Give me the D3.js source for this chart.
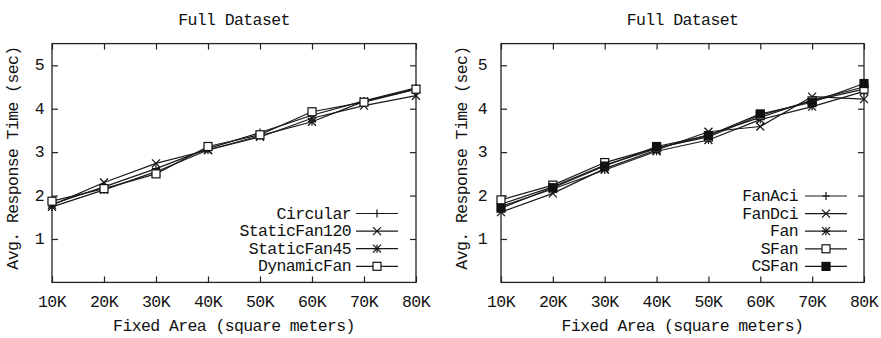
<!DOCTYPE html>
<html>
<head>
<meta charset="utf-8">
<script src="https://cdn.jsdelivr.net/npm/d3@7"></script>
<style>
  body { margin: 0; background: #fff; }
  svg text { font-family: "Liberation Mono", "DejaVu Sans Mono", monospace; font-size: 16.5px; letter-spacing: -0.6px; fill: #111; }
</style>
</head>
<body>
<svg id="chart" width="881" height="338"></svg>
<script>
"use strict";

var areas = [10, 20, 30, 40, 50, 60, 70, 80];
var xTickLabels = ['10K', '20K', '30K', '40K', '50K', '60K', '70K', '80K'];
var yTicks = [1, 2, 3, 4, 5];

// left panel
var leftNames = ['Circular', 'StaticFan120', 'StaticFan45', 'DynamicFan'];
var leftMarkers = ['plus', 'cross', 'star', 'square'];
var circular     = [1.80, 2.20, 2.62, 3.08, 3.45, 3.85, 4.18, 4.48];
var staticFan120 = [1.78, 2.30, 2.74, 3.05, 3.35, 3.78, 4.07, 4.30];
var staticFan45  = [1.74, 2.13, 2.55, 3.05, 3.38, 3.70, 4.17, 4.45];
var dynamicFan   = [1.87, 2.16, 2.50, 3.13, 3.40, 3.93, 4.15, 4.45];

// right panel
var rightNames = ['FanAci', 'FanDci', 'Fan', 'SFan', 'CSFan'];
var rightMarkers = ['plus', 'cross', 'star', 'square', 'filled'];
var fanAci = [1.80, 2.20, 2.70, 3.08, 3.40, 3.80, 4.20, 4.50];
var fanDci = [1.62, 2.05, 2.62, 3.05, 3.47, 3.59, 4.28, 4.22];
var fan    = [1.75, 2.15, 2.59, 3.02, 3.28, 3.75, 4.05, 4.40];
var sFan   = [1.90, 2.24, 2.76, 3.10, 3.35, 3.85, 4.18, 4.45];
var csFan  = [1.71, 2.18, 2.68, 3.13, 3.38, 3.88, 4.15, 4.58];

var svg = d3.select('#chart');

function drawMarker(g, type, cx, cy) {
    var s = 4;
    var m = g.append('g').attr('transform', 'translate(' + cx + ',' + cy + ')')
        .attr('stroke', '#111').attr('stroke-width', 1.2).attr('fill', 'none');
    if (type === 'plus' || type === 'star') {
        m.append('path').attr('d', 'M' + (-s) + ',0H' + s + 'M0,' + (-s) + 'V' + s);
    }
    if (type === 'cross' || type === 'star') {
        m.append('path').attr('d', 'M' + (-s) + ',' + (-s) + 'L' + s + ',' + s + 'M' + (-s) + ',' + s + 'L' + s + ',' + (-s));
    }
    if (type === 'square') {
        m.append('rect').attr('x', -s).attr('y', -s).attr('width', 2 * s).attr('height', 2 * s).attr('fill', '#fff');
    }
    if (type === 'filled') {
        m.append('rect').attr('x', -s).attr('y', -s).attr('width', 2 * s).attr('height', 2 * s).attr('fill', '#111');
    }
}

function drawPanel(opts) {
    var x = d3.scaleLinear().domain([10, 80]).range([opts.left, opts.right]);
    var y = d3.scaleLinear().domain([0, 5.5]).range([282.4, 43.6]);
    var g = svg.append('g');

    // ticks on all four sides, pointing inward
    g.append('g').attr('transform', 'translate(0,' + y(0) + ')')
        .call(d3.axisBottom(x).tickValues(areas).tickSize(-6).tickFormat(''))
        .call(function(a) { a.select('.domain').remove(); });
    g.append('g').attr('transform', 'translate(0,' + y(5.5) + ')')
        .call(d3.axisTop(x).tickValues(areas).tickSize(-6).tickFormat(''))
        .call(function(a) { a.select('.domain').remove(); });
    g.append('g').attr('transform', 'translate(' + x(10) + ',0)')
        .call(d3.axisLeft(y).tickValues(yTicks).tickSize(-6).tickFormat(''))
        .call(function(a) { a.select('.domain').remove(); });
    g.append('g').attr('transform', 'translate(' + x(80) + ',0)')
        .call(d3.axisRight(y).tickValues(yTicks).tickSize(-6).tickFormat(''))
        .call(function(a) { a.select('.domain').remove(); });
    g.selectAll('.tick line').attr('stroke', '#222').attr('stroke-width', 1.2);

    g.append('rect').attr('x', x(10)).attr('y', y(5.5))
        .attr('width', x(80) - x(10)).attr('height', y(0) - y(5.5))
        .attr('fill', 'none').attr('stroke', '#222').attr('stroke-width', 1.3);

    // tick labels
    g.selectAll('.xl').data(areas).enter().append('text')
        .attr('x', function(d) { return x(d); }).attr('y', 307)
        .attr('text-anchor', 'middle')
        .text(function(d, i) { return xTickLabels[i]; });
    g.selectAll('.yl').data(yTicks).enter().append('text')
        .attr('x', x(10) - opts.yLabelGap).attr('y', function(d) { return y(d) + 5; })
        .attr('text-anchor', 'end')
        .text(function(d) { return d; });

    // titles
    var cx = (x(10) + x(80)) / 2;
    g.append('text').attr('x', cx).attr('y', 25).attr('text-anchor', 'middle').text('Full Dataset');
    g.append('text').attr('x', cx).attr('y', 331).attr('text-anchor', 'middle').text('Fixed Area (square meters)');
    g.append('text').attr('text-anchor', 'middle')
        .attr('transform', 'translate(' + opts.yTitleX + ',' + 158 + ') rotate(-90)')
        .text('Avg. Response Time (sec)');

    var line = d3.line().x(function(d, i) { return x(areas[i]); }).y(function(d) { return y(d); });

    opts.series.forEach(function(vals, k) {
        g.append('path').datum(vals).attr('d', line)
            .attr('fill', 'none').attr('stroke', '#1a1a1a').attr('stroke-width', 1.2);
        vals.forEach(function(v, i) {
            drawMarker(g, opts.markers[k], x(areas[i]), y(v));
        });

        // legend
        var ly = opts.legendY + k * 17.6;
        g.append('text').attr('x', opts.legendText).attr('y', ly + 5)
            .attr('text-anchor', 'end').text(opts.names[k]);
        g.append('line').attr('x1', opts.legendLine).attr('x2', opts.legendLine + 42)
            .attr('y1', ly).attr('y2', ly).attr('stroke', '#1a1a1a').attr('stroke-width', 1.2);
        drawMarker(g, opts.markers[k], opts.legendLine + 21, ly);
    });
}

drawPanel({
    left: 52, right: 416, yLabelGap: 8, yTitleX: 18,
    series: [circular, staticFan120, staticFan45, dynamicFan],
    names: leftNames, markers: leftMarkers,
    legendY: 213.5, legendText: 351, legendLine: 356
});

drawPanel({
    left: 501, right: 864, yLabelGap: 14, yTitleX: 467,
    series: [fanAci, fanDci, fan, sFan, csFan],
    names: rightNames, markers: rightMarkers,
    legendY: 196, legendText: 798, legendLine: 805
});
</script>
</body>
</html>
